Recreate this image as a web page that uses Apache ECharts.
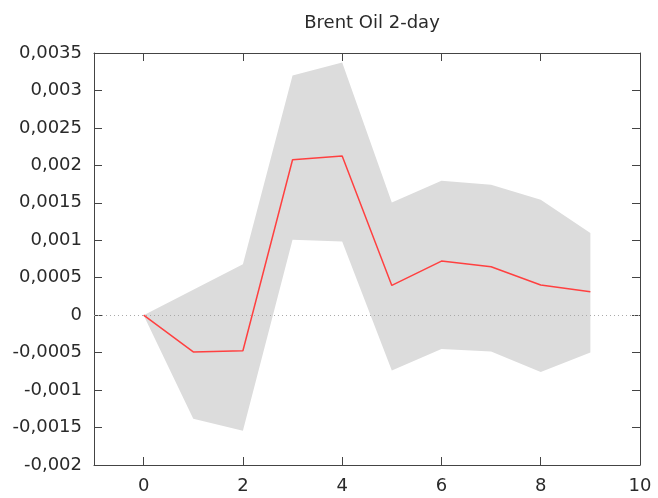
<!DOCTYPE html>
<html>
<head>
<meta charset="utf-8">
<script src="https://cdn.jsdelivr.net/npm/echarts@6/dist/echarts.min.js"></script>
<style>
  html, body { margin: 0; padding: 0; background: #fff; }
  #chart { width: 658px; height: 498px; }
</style>
</head>
<body>
<div id="chart"></div>
<script>
// Impulse response of Brent Oil (2-day) with its confidence band
const steps = [0, 1, 2, 3, 4, 5, 6, 7, 8, 9];
const response = [0, -0.00049, -0.000475, 0.002075, 0.002124, 0.000397, 0.000722, 0.000646, 0.000402, 0.000312];
const lowerBand = [0, -0.001383, -0.001543, 0.001007, 0.000984, -0.000738, -0.000453, -0.000484, -0.00076, -0.000498];
const upperBand = [0, 0.00034, 0.00068, 0.0032, 0.003374, 0.001505, 0.001795, 0.00174, 0.00154, 0.001096];
const xTicks = [0, 2, 4, 6, 8, 10];

const font = 'DejaVu Sans';
const axisColor = '#444';
const textColor = '#2a2a2a';
const bandColor = '#dcdcdc';

const pairs = (ys) => steps.map((s, i) => [s, ys[i]]);
const bandRows = steps.map((s, i) => [s, lowerBand[i], upperBand[i]]);

function fmtY(v) {
  return Number(v.toFixed(5)).toString().replace('.', ',');
}

// The band is drawn once as a single polygon: upper edge left→right, lower edge right→left
function renderBand(params, api) {
  if (params.dataIndex !== 0) return null;
  const upper = bandRows.map((r) => api.coord([r[0], r[2]]));
  const lower = bandRows.map((r) => api.coord([r[0], r[1]])).reverse();
  return {
    type: 'polygon',
    shape: { points: upper.concat(lower) },
    style: { fill: bandColor },
    silent: true
  };
}

const chart = echarts.init(document.getElementById('chart'), null, { renderer: 'canvas' });

const xBase = {
  type: 'value', min: -1, max: 10,
  axisLine: { show: true, onZero: false, lineStyle: { color: axisColor, width: 1 } },
  axisTick: { show: true, inside: true, length: 8, customValues: xTicks, lineStyle: { color: axisColor } },
  splitLine: { show: false }
};
const yBase = {
  type: 'value', min: -0.002, max: 0.0035, interval: 0.0005,
  axisLine: { show: true, onZero: false, lineStyle: { color: axisColor, width: 1 } },
  axisTick: { show: true, inside: true, length: 8, lineStyle: { color: axisColor } },
  splitLine: { show: false }
};

chart.setOption({
  animation: false,
  title: {
    text: 'Brent Oil 2-day', left: 367, top: 9, textAlign: 'center',
    textStyle: { fontFamily: font, fontSize: 18, fontWeight: 'normal', color: textColor }
  },
  grid: { left: 94, right: 18, top: 53, bottom: 33 },
  xAxis: [
    Object.assign({}, xBase, {
      position: 'bottom',
      axisLabel: { show: true, customValues: xTicks, margin: 12, fontFamily: font, fontSize: 18, color: textColor }
    }),
    Object.assign({}, xBase, { position: 'top', axisLabel: { show: false } })
  ],
  yAxis: [
    Object.assign({}, yBase, {
      position: 'left',
      axisLabel: { show: true, margin: 12, fontFamily: font, fontSize: 18, color: textColor, formatter: fmtY }
    }),
    Object.assign({}, yBase, { position: 'right', axisLabel: { show: false } })
  ],
  series: [
    {
      name: 'band', type: 'custom', renderItem: renderBand,
      data: bandRows, encode: { x: 0, y: [1, 2] }, z: 1, silent: true
    },
    {
      name: 'response', type: 'line', data: pairs(response),
      symbol: 'none', lineStyle: { color: '#ff4040', width: 1.5 }, z: 3,
      markLine: {
        silent: true, symbol: 'none', label: { show: false },
        lineStyle: { color: '#aaa', type: [1, 3], width: 1 },
        data: [{ yAxis: 0 }]
      }
    }
  ]
});
</script>
</body>
</html>
